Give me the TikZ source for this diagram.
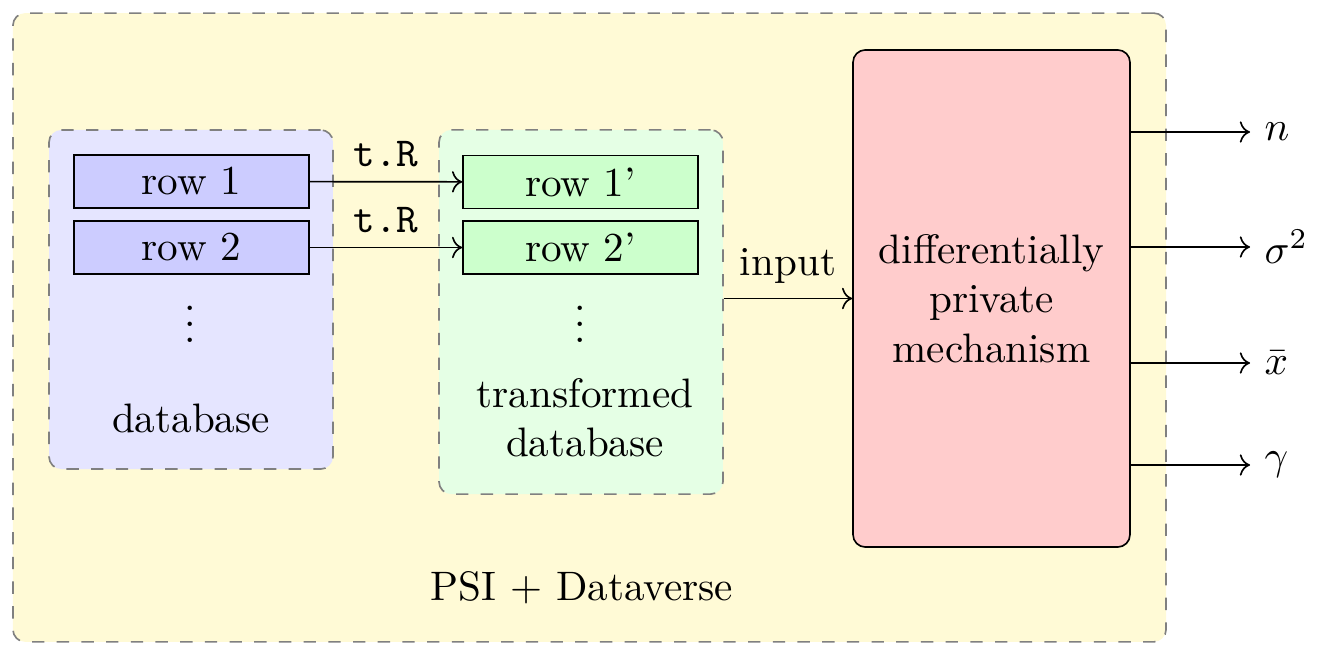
\documentclass[tikz,border=0pt]{standalone}
\usepackage{amsmath}
\usepackage{amssymb}
\usepackage[HTML]{xcolor}
\usepackage{tikz}
\usetikzlibrary{positioning, arrows, arrows.meta}
\definecolor{psiyellow}{HTML}{FFFAD6}

\begin{document}
\begin{tikzpicture}[x=0.243pt, y=-0.243pt,
    group/.style={draw=gray, dashed, rounded corners=3pt},
    row/.style={draw, minimum width=57.1pt, minimum height=12.9pt, inner sep=0pt},
    mech/.style={draw, fill=red!20, rounded corners=3pt, align=center,
        minimum width=67.3pt, minimum height=120.8pt}]
    \useasboundingbox (0,0) rectangle (1322,657);

    % Define nodes
    \node[group, fill=psiyellow, minimum width=280.2pt, minimum height=152.8pt] (psi) at (589.5,327.5) {};
    \node[group, fill=blue!10, minimum width=69pt, minimum height=82.4pt] (db) at (191,299.5) {};
    \node[group, fill=green!10, minimum width=69pt, minimum height=88.5pt] (tdb) at (581,312) {};

    \node[row, fill=blue!20] (r1) at (191.5,181.5) {row 1};
    \node[row, fill=blue!20] (r2) at (191.5,247.5) {row 2};
    \node (d1) at (190,312) {$\vdots$};
    \node (dbl) at (191,418) {database};

    \node[row, fill=green!20] (t1) at (580.5,182) {row 1'};
    \node[row, fill=green!20] (t2) at (580.5,247.5) {row 2'};
    \node (d2) at (580,312) {$\vdots$};
    \node[align=center] (tdbl) at (585,418) {transformed\\database};

    \node[mech] (M) at (991.5,298.5) {differentially\\private\\mechanism};

    \node[anchor=west] (n) at (1250,132) {$n$};
    \node[anchor=west] (s) at (1250,247) {$\sigma^2$};
    \node[anchor=west] (x) at (1250,363) {$\bar{x}$};
    \node[anchor=west] (g) at (1250,465) {$\gamma$};

    \node (psil) at (582,588) {PSI + Dataverse};

    % Draw arrows
    \draw[->] (r1) -- node[above] {\texttt{t.R}} (t1);
    \draw[->] (r2) -- node[above] {\texttt{t.R}} (t2);
    \draw[->] (tdb.east |- M.west) -- node[above] {input} (M.west);
    \draw[->] (M.east |- n.west) -- (n.west);
    \draw[->] (M.east |- s.west) -- (s.west);
    \draw[->] (M.east |- x.west) -- (x.west);
    \draw[->] (M.east |- g.west) -- (g.west);
\end{tikzpicture}
\end{document}
